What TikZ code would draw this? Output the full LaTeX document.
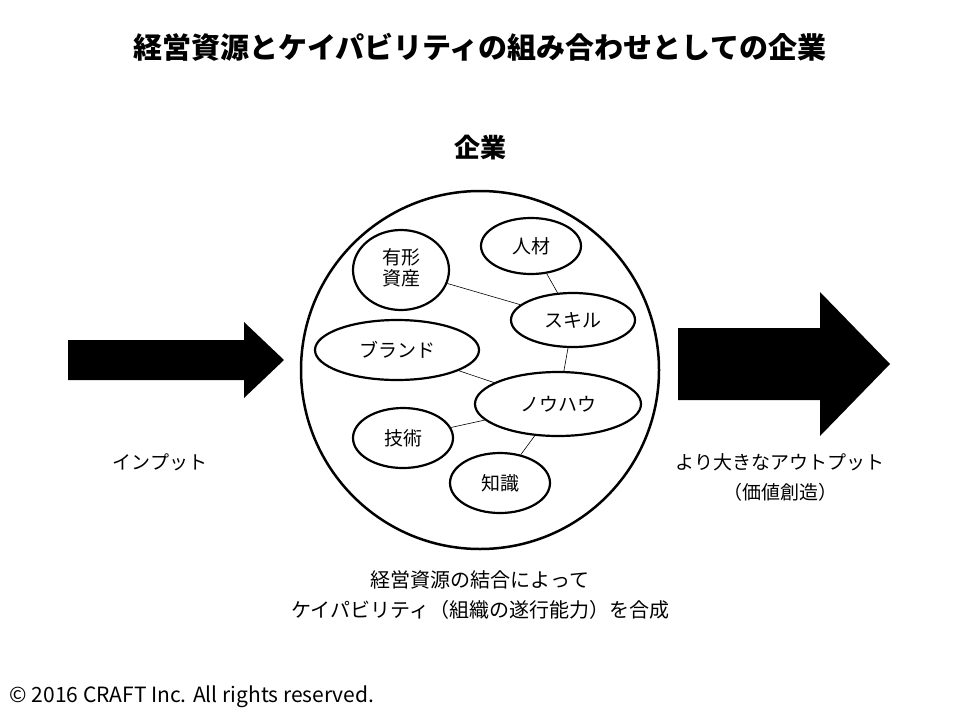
\documentclass[tikz,border=0pt]{standalone}
\usepackage{fontspec}
\setmainfont{Noto Sans CJK JP}
\usetikzlibrary{positioning,shapes.geometric}
\begin{document}
\begin{tikzpicture}[x=1pt,y=-1pt,
				every node/.style={font=\fontsize{19}{23}\selectfont},
				item/.style={ellipse,draw,line width=2.2pt,inner sep=0pt},
				link/.style={line width=0.6pt},
				bigarrow/.style={fill=black}]
				\useasboundingbox (0,0) rectangle (960,720);
				\node (TITLE) at (480,47) {\fontsize{29}{34}\selectfont\bfseries 経営資源とケイパビリティの組み合わせとしての企業};
				\node (FIRM)  at (480,148) {\fontsize{26}{31}\selectfont\bfseries 企業};
				\node (BODY) [circle,draw,line width=2.5pt,minimum size=358pt] at (480,370) {};
				\node (YUKEI) [item,minimum width=96pt,minimum height=80pt] at (401,270) {\begin{tabular}{@{}c@{}}有形\\[-2pt]資産\end{tabular}};
				\node (JINZAI) [item,minimum width=100pt,minimum height=56pt] at (531,246) {人材};
				\node (SKILL) [item,minimum width=124pt,minimum height=54pt] at (573,320) {スキル};
				\node (BRAND) [item,minimum width=164pt,minimum height=60pt] at (397,350) {ブランド};
				\node (KNOW)  [item,minimum width=166pt,minimum height=64pt] at (558,404) {ノウハウ};
				\node (GIJUTSU) [item,minimum width=100pt,minimum height=60pt] at (403,438) {技術};
				\node (CHISHIKI) [item,minimum width=100pt,minimum height=60pt] at (500,483) {知識};
				
				\draw[link] (YUKEI) -- (SKILL);
				\draw[link] (JINZAI) -- (SKILL);
				\draw[link] (SKILL) -- (KNOW);
				\draw[link] (BRAND) -- (KNOW);
				\draw[link] (GIJUTSU) -- (KNOW);
				\draw[link] (CHISHIKI) -- (KNOW);
				
				\fill[bigarrow] (68,340) -- (244,340) -- (244,322) -- (284,360) -- (244,398) -- (244,380) -- (68,380) -- cycle;
				\fill[bigarrow] (678,328) -- (820,328) -- (820,292) -- (890,364) -- (820,436) -- (820,400) -- (678,400) -- cycle;
				
				\node (INPUT)  at (160,462) {インプット};
				\node (OUTPUT) at (780,462) {より大きなアウトプット};
				\node (VALUE)  at (780,492) {（価値創造）};
				\node (CAP1)   at (480,580) {\fontsize{20}{24}\selectfont 経営資源の結合によって};
				\node (CAP2)   at (480,610) {\fontsize{20}{24}\selectfont ケイパビリティ（組織の遂行能力）を合成};
				\node (COPY) [anchor=west,font=\fontsize{21}{25}\selectfont] at (6,697) {© 2016 CRAFT Inc. All rights reserved.};
			\end{tikzpicture}
\end{document}
